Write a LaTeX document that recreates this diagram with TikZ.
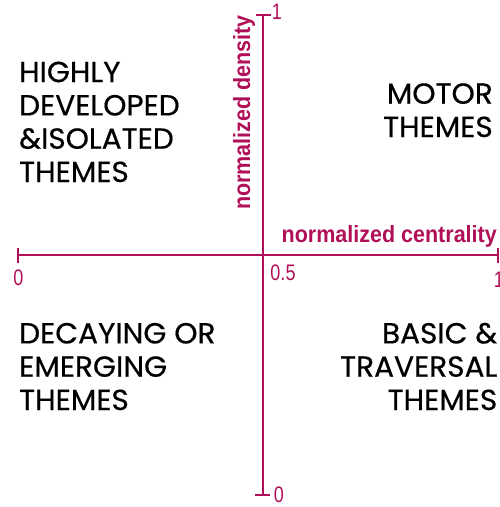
\documentclass[tikz,border=0pt]{standalone}
\usepackage{fontspec}
\newfontfamily\themefont[FakeBold=0.5,FakeStretch=1.02]{Poppins}
\newfontfamily\axisfont[FakeStretch=0.915]{Liberation Sans}
\newfontfamily\tickfont[FakeStretch=0.8]{Liberation Sans}
\definecolor{axiscol}{RGB}{176,16,88}
\begin{document}
\begin{tikzpicture}[x=1pt,y=-1pt,
  axisline/.style={draw=axiscol,line width=1.3pt},
  theme/.style={inner sep=0pt,text=black,font=\themefont\fontsize{29}{33.3}\selectfont},
  axislabel/.style={inner sep=0pt,text=axiscol,font=\axisfont\bfseries\fontsize{23.5}{28}\selectfont},
  ticklabel/.style={inner sep=0pt,text=axiscol,font=\tickfont\fontsize{22.5}{26}\selectfont}]
\useasboundingbox (0,0) rectangle (499,507);
% axis points
\coordinate (xl) at (18,255);
\coordinate (xr) at (499,255);
\coordinate (yt) at (263,15);
\coordinate (yb) at (263,495);
\coordinate (xlt1) at (18,248);
\coordinate (xlt2) at (18,263);
\coordinate (xrt1) at (498,248);
\coordinate (xrt2) at (498,263);
\coordinate (ytt1) at (256,15);
\coordinate (ytt2) at (271,15);
\coordinate (ybt1) at (255,495);
\coordinate (ybt2) at (270,495);
\draw[axisline] (xl) -- (xr);
\draw[axisline] (yt) -- (yb);
\draw[axisline] (xlt1) -- (xlt2);
\draw[axisline] (xrt1) -- (xrt2);
\draw[axisline] (ytt1) -- (ytt2);
\draw[axisline] (ybt1) -- (ybt2);
% tick labels
\node[ticklabel] (t0x) at (18.5,278) {0};
\node[ticklabel] (t05) at (283,273) {0.5};
\node[ticklabel] (t1x) at (499,280) {1};
\node[ticklabel] (t1y) at (277,12) {1};
\node[ticklabel] (t0y) at (279,495) {0};
% axis titles
\node[axislabel,anchor=base east] (xlab) at (497,242.5) {normalized centrality};
\node[axislabel,anchor=base west,rotate=90] (ylab) at (250,210) {normalized density};
% quadrant labels (base anchor = baseline of last line)
\node[theme,anchor=base west,align=left] (hd) at (19,182) {HIGHLY\\DEVELOPED\\\&ISOLATED\\THEMES};
\node[theme,anchor=base east,align=right] (mt) at (493,137) {MOTOR\\THEMES};
\node[theme,anchor=base west,align=left] (de) at (19,410) {DECAYING OR\\EMERGING\\THEMES};
\node[theme,anchor=base east,align=right] (bt) at (497.5,410) {BASIC \&\\TRAVERSAL\\THEMES};
\end{tikzpicture}
\end{document}
